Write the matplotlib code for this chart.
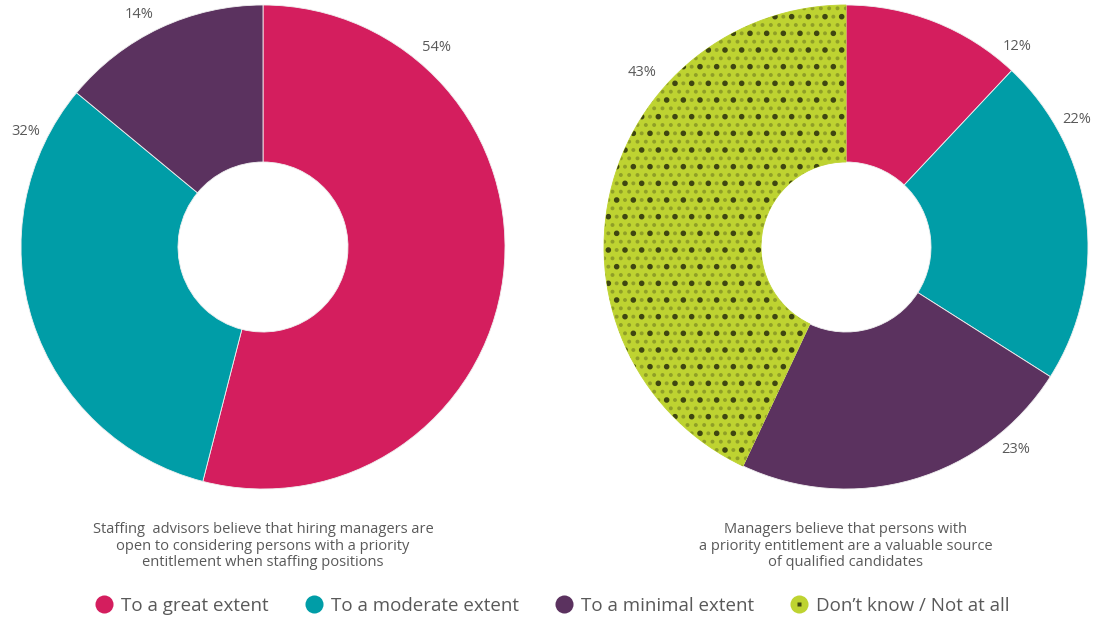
import numpy as np
import matplotlib
matplotlib.use("Agg")
import matplotlib.pyplot as plt
from matplotlib.lines import Line2D
from matplotlib.legend_handler import HandlerTuple

plt.rcParams["font.family"] = ["Open Sans", "DejaVu Sans"]
plt.rcParams["hatch.linewidth"] = 1.6

CATEGORIES = ["To a great extent", "To a moderate extent",
              "To a minimal extent", "Don\u2019t know / Not at all"]
COLORS = ["#D41E5E", "#009DA7", "#5B325F", "#BED331"]

LEFT_VALUES = [54, 32, 14]
RIGHT_VALUES = [12, 22, 23, 43]
LEFT_CAPTION = ("Staffing  advisors believe that hiring managers are\n"
                "open to considering persons with a priority\n"
                "entitlement when staffing positions")
RIGHT_CAPTION = ("Managers believe that persons with\n"
                 "a priority entitlement are a valuable source\n"
                 "of qualified candidates")

# label angles (degrees) and radii placed around the rings
LEFT_LABEL_ANG = [49, 154, 118]
RIGHT_LABEL_ANG = [49.5, 29, -50, 139.5]
LEFT_LABEL_R = [1.09, 1.09, 1.09]
RIGHT_LABEL_R = [1.09, 1.09, 1.09, 1.11]

TEXT = "#595959"
DOT = "#3f4612"
DOT_LIGHT = "#8f9f27"
W, H = 1093, 622
fig = plt.figure(figsize=(W / 100, H / 100), dpi=100)


def hatch_layer(ax, values, n_pat, hatch, color):
    before = len(ax.patches)
    ax.pie(values, startangle=90, counterclock=False, radius=1,
           colors=["none"] * len(values),
           wedgeprops=dict(width=1 - 85 / 242, linewidth=0, edgecolor=color))
    for i, p in enumerate(ax.patches[before:]):
        if i == n_pat:
            p.set_hatch(hatch)
        else:
            p.set_visible(False)


def donut(x0, values, label_ang, label_r, n_pat=None):
    r_px = 242
    ax = fig.add_axes([(x0 - r_px) / W, (H - 247 - r_px) / H,
                       2 * r_px / W, 2 * r_px / H])
    wedges, _ = ax.pie(values, colors=COLORS[:len(values)], startangle=90,
                       counterclock=False, radius=1,
                       wedgeprops=dict(width=1 - 85 / 242, linewidth=0.6,
                                       edgecolor="#f0f0f0"))
    if n_pat is not None:
        wedges[n_pat].set_edgecolor(COLORS[n_pat])
        hatch_layer(ax, values, n_pat, "..", DOT_LIGHT)
        hatch_layer(ax, values, n_pat, ".", DOT)
    for v, a, r in zip(values, label_ang, label_r):
        t = np.deg2rad(a)
        ax.text(r * np.cos(t), r * np.sin(t), f"{v}%", ha="center",
                va="center", fontsize=10.5, color=TEXT)
    ax.set_xlim(-1, 1)
    ax.set_ylim(-1, 1)
    ax.set_aspect("equal")
    ax.axis("off")
    return ax


donut(263, LEFT_VALUES, LEFT_LABEL_ANG, LEFT_LABEL_R)
donut(846, RIGHT_VALUES, RIGHT_LABEL_ANG, RIGHT_LABEL_R, n_pat=3)

fig.text(263 / W, 1 - 546 / H, LEFT_CAPTION, ha="center", va="center",
         fontsize=10.5, color=TEXT, linespacing=1.12)
fig.text(846 / W, 1 - 546 / H, RIGHT_CAPTION, ha="center", va="center",
         fontsize=10.5, color=TEXT, linespacing=1.12)

handles = [Line2D([], [], marker="o", ls="none", ms=13, mfc=c, mec="none")
           for c in COLORS[:3]]
handles.append((Line2D([], [], marker="o", ls="none", ms=13, mfc=COLORS[3], mec="none"),
                Line2D([], [], marker="s", ls="none", ms=3, mfc=DOT, mec="none")))
leg = fig.legend(handles, CATEGORIES, loc="center", ncol=4,
                 bbox_to_anchor=(0.505, 1 - 606 / H), frameon=False,
                 fontsize=13.5, handletextpad=0.4, columnspacing=1.9,
                 handlelength=1.0,
                 handler_map={tuple: HandlerTuple(ndivide=1)})
for t in leg.get_texts():
    t.set_color(TEXT)

fig.savefig("out.png", dpi=100)
